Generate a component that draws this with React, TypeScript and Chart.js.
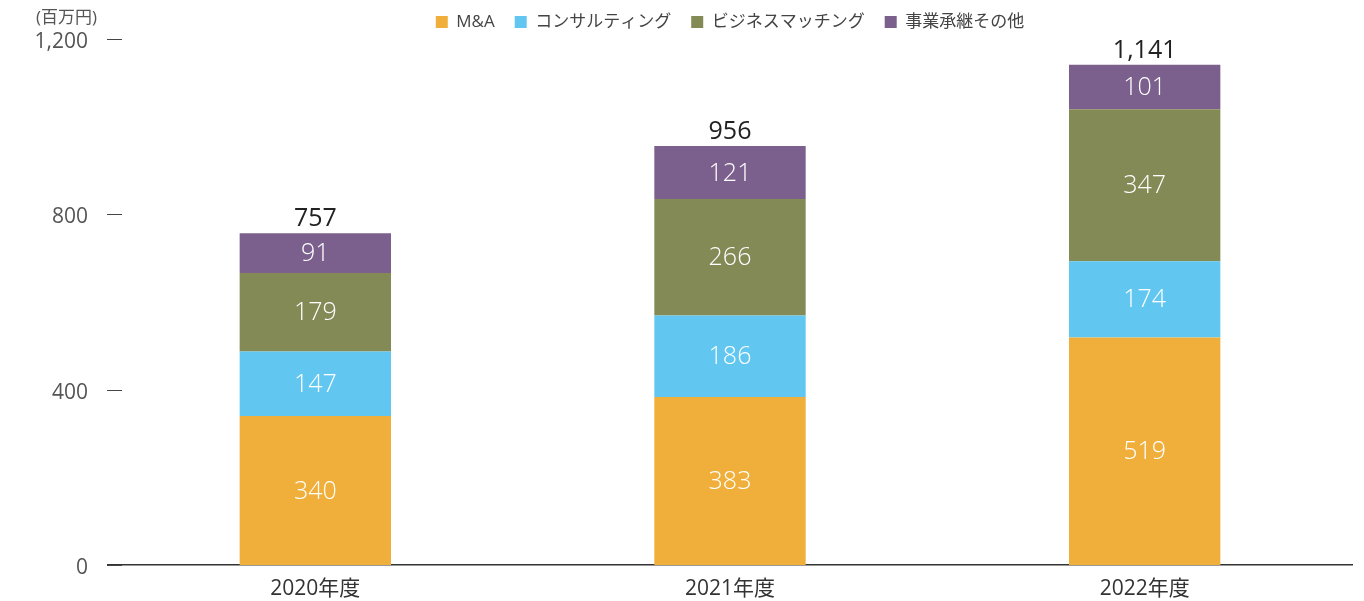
import React, { useEffect, useRef } from "react";
import { Chart, registerables } from "chart.js";

Chart.register(...registerables);

const categories = ["2020年度", "2021年度", "2022年度"];
const seriesNames = ["M&A", "コンサルティング", "ビジネスマッチング", "事業承継その他"];
const maValues = [340, 383, 519];
const consultingValues = [147, 186, 174];
const matchingValues = [179, 266, 347];
const otherValues = [91, 121, 101];
const totals = [757, 956, 1141];
const yTicks = [0, 400, 800, 1200];
const unitLabel = "(百万円)";
const seriesColors = ["#F0AF3A", "#62C7F0", "#838A56", "#7B5F8C"];

const FONT = '"Open Sans", "Noto Sans CJK JP", sans-serif';

const fmt = (v: number) => v.toLocaleString("en-US");

const labelPlugin = {
  id: "customLabels",
  afterInit(chart: any) {
    const lg = chart.legend;
    if (lg) {
      const fit = lg.fit.bind(lg);
      lg.fit = () => {
        fit();
        lg.height = 39;
      };
      const draw = lg.draw.bind(lg);
      lg.draw = (...args: any[]) => {
        const t = lg.top;
        lg.top = t - 6.5;
        draw(...args);
        lg.top = t;
      };
    }
  },
  afterDatasetsDraw(chart: any) {
    const ctx = chart.ctx;
    ctx.save();
    chart.data.datasets.forEach((ds: any, di: number) => {
      const meta = chart.getDatasetMeta(di);
      meta.data.forEach((el: any, i: number) => {
        const { x, y, base } = el.getProps(["x", "y", "base"], true);
        ctx.fillStyle = "#ffffff";
        ctx.font = `300 25px ${FONT}`;
        ctx.textAlign = "center";
        ctx.textBaseline = "middle";
        ctx.fillText(fmt(ds.data[i]), x, (y + base) / 2 + 1);
      });
    });
    const lastMeta = chart.getDatasetMeta(chart.data.datasets.length - 1);
    lastMeta.data.forEach((el: any, i: number) => {
      const { x, y } = el.getProps(["x", "y"], true);
      ctx.fillStyle = "#222222";
      ctx.font = `400 25px ${FONT}`;
      ctx.textAlign = "center";
      ctx.textBaseline = "alphabetic";
      ctx.fillText(fmt(totals[i]), x, y - 7);
    });
    const ys = chart.scales.y;
    const left = chart.chartArea.left;
    ctx.strokeStyle = "#444444";
    ctx.lineWidth = 1;
    yTicks.forEach((v) => {
      const py = Math.round(ys.getPixelForValue(v)) + 0.5;
      ctx.beginPath();
      ctx.moveTo(left - 1, py);
      ctx.lineTo(left + 14, py);
      ctx.stroke();
    });
    ctx.fillStyle = "#555555";
    ctx.font = `400 17px ${FONT}`;
    ctx.textAlign = "left";
    ctx.textBaseline = "middle";
    ctx.fillText(unitLabel, 36, 18);
    ctx.restore();
  },
};

export default function App() {
  const canvasRef = useRef<HTMLCanvasElement | null>(null);

  useEffect(() => {
    if (!canvasRef.current) return;
    const valueLists = [maValues, consultingValues, matchingValues, otherValues];
    const chart = new Chart(canvasRef.current, {
      type: "bar",
      data: {
        labels: categories,
        datasets: seriesNames.map((name, i) => ({
          label: name,
          data: valueLists[i],
          backgroundColor: seriesColors[i],
          borderWidth: 0,
          barPercentage: 0.365,
          categoryPercentage: 1,
        })),
      },
      options: {
        animation: false,
        responsive: true,
        maintainAspectRatio: false,
        layout: { padding: { left: 0, right: 12, top: 0, bottom: 0 } },
        plugins: {
          tooltip: { enabled: false },
          legend: {
            display: true,
            position: "top",
            fullSize: false,
            labels: {
              boxWidth: 12,
              boxHeight: 12,
              padding: 20,
              color: "#444444",
              font: { family: FONT, size: 17 },
            },
          },
        },
        scales: {
          x: {
            stacked: true,
            grid: { display: false },
            border: { display: true, color: "#333333", width: 1.5 },
            ticks: {
              color: "#333333",
              font: { family: FONT, size: 21 },
              padding: 3,
            },
            afterFit: (scale: any) => {
              scale.height = 36;
            },
          },
          y: {
            stacked: true,
            min: 0,
            max: 1200,
            grid: { display: false },
            border: { display: false },
            ticks: {
              stepSize: 400,
              color: "#555555",
              font: { family: FONT, size: 21 },
              padding: 12,
              labelOffset: 3,
              callback: (v: any) => fmt(Number(v)),
            },
            afterFit: (scale: any) => {
              scale.width = 108;
            },
          },
        },
      },
      plugins: [labelPlugin],
    });
    return () => chart.destroy();
  }, []);

  return (
    <div style={{ position: "absolute", left: 0, top: 0, width: 1364, height: 601 }}>
      <canvas ref={canvasRef} />
    </div>
  );
}
